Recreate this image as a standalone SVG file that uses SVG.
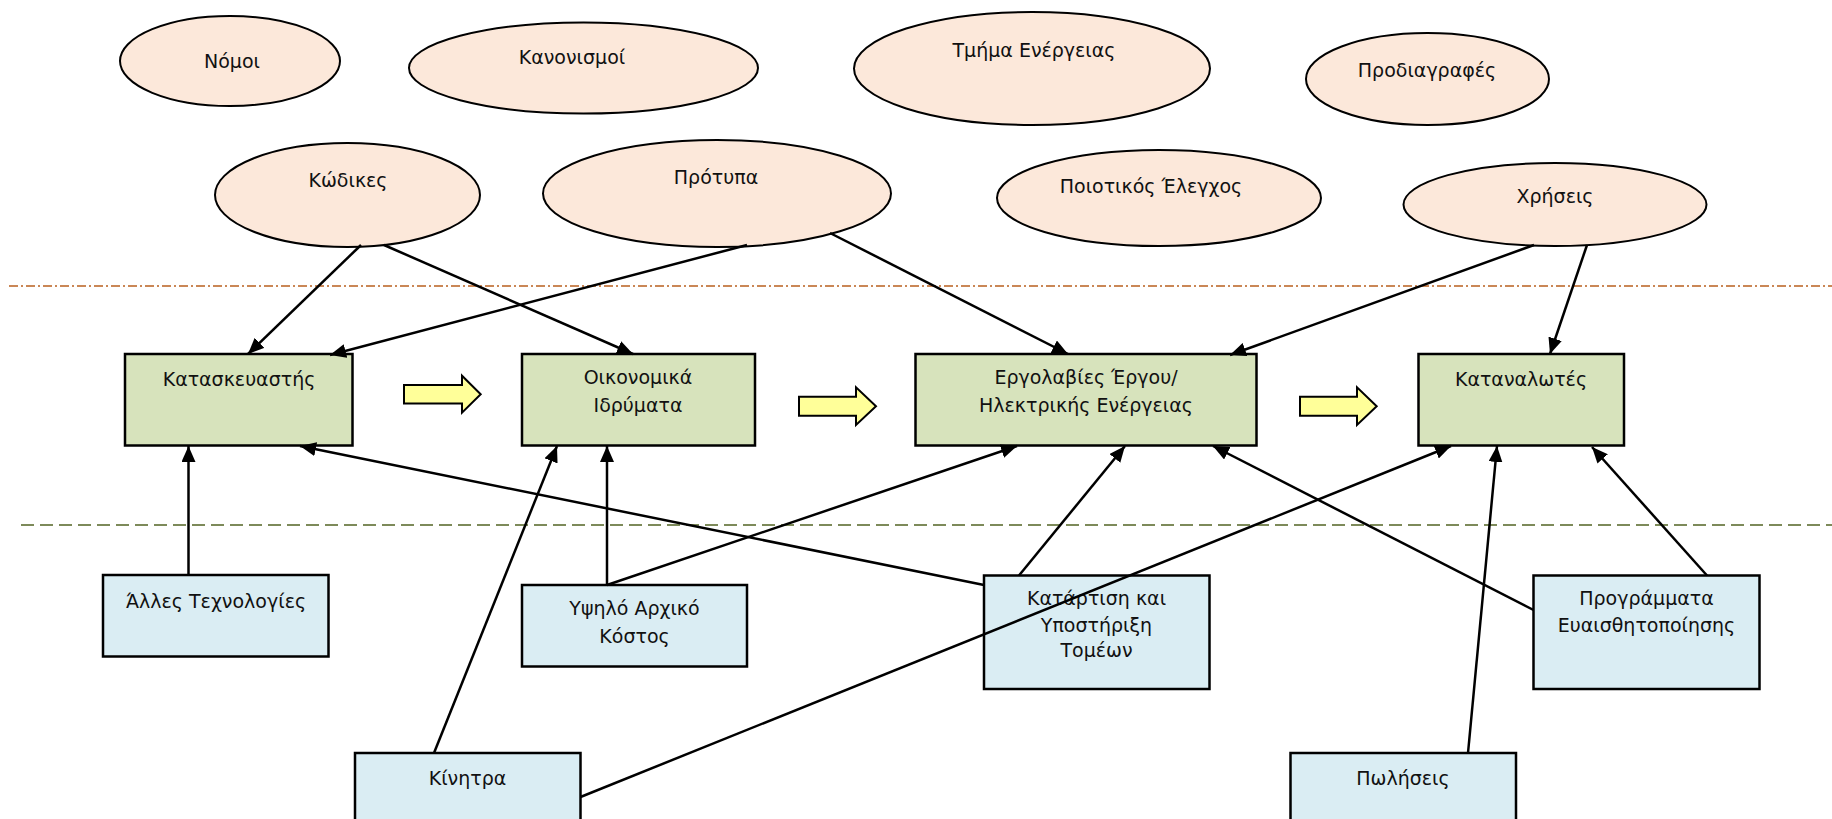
<svg xmlns="http://www.w3.org/2000/svg" width="1832" height="819" viewBox="0 0 1832 819">
  <defs>
    <marker id="tip" markerUnits="userSpaceOnUse" markerWidth="17" markerHeight="14" refX="16" refY="7" orient="auto">
      <path d="M0,0 L16,7 L0,14 z" fill="#000"/>
    </marker>
  </defs>
  <style>
    text { font-family: "DejaVu Sans", "Liberation Sans", sans-serif; font-size: 19px; fill: #111; text-anchor: middle; }
    .oval { fill: #FCE8DA; stroke: #000; stroke-width: 2; }
    .actor { fill: #D7E3BC; stroke: #000; stroke-width: 2.5; }
    .factor { fill: #DAEDF3; stroke: #000; stroke-width: 2.5; }
    .flow { fill: #FFFF99; stroke: #000; stroke-width: 2; }
    .link { stroke: #000; stroke-width: 2.5; fill: none; marker-end: url(#tip); }
  </style>
  <rect width="1832" height="819" fill="#fff"/>

  <!-- separators between layers -->
  <g id="separators">
    <line x1="9" y1="286" x2="1832" y2="286" stroke="#B9601F" stroke-width="1.6" stroke-dasharray="9 3 2 3"/>
    <line x1="21" y1="525" x2="1832" y2="525" stroke="#7D8A5A" stroke-width="2" stroke-dasharray="13 6"/>
  </g>

  <!-- regulatory / institutional ovals -->
  <g id="nomoi"><ellipse class="oval" cx="230" cy="61" rx="110" ry="45"/><text x="232" y="68">Νόμοι</text></g>
  <g id="kanonismoi"><ellipse class="oval" cx="583.5" cy="68" rx="174.5" ry="45.5"/><text x="572" y="64">Κανονισμοί</text></g>
  <g id="tmima-energeias"><ellipse class="oval" cx="1032" cy="68.5" rx="178" ry="56.5"/><text x="1034" y="57">Τμήμα Ενέργειας</text></g>
  <g id="prodiagrafes"><ellipse class="oval" cx="1427.5" cy="79" rx="121.5" ry="46"/><text x="1427" y="77">Προδιαγραφές</text></g>
  <g id="kodikes"><ellipse class="oval" cx="347.5" cy="195" rx="132.5" ry="52"/><text x="348" y="187">Κώδικες</text></g>
  <g id="protypa"><ellipse class="oval" cx="717" cy="193.5" rx="174" ry="53.5"/><text x="716" y="184">Πρότυπα</text></g>
  <g id="poiotikos-elegxos"><ellipse class="oval" cx="1159" cy="198" rx="162" ry="48"/><text x="1151" y="193">Ποιοτικός Έλεγχος</text></g>
  <g id="xriseis"><ellipse class="oval" cx="1555" cy="204.5" rx="151.5" ry="41.5"/><text x="1555" y="203">Χρήσεις</text></g>

  <!-- market actors -->
  <g id="kataskeuastis"><rect class="actor" x="125" y="354" width="227.5" height="91.5"/><text x="239" y="385.5">Κατασκευαστής</text></g>
  <g id="oikonomika-idrymata"><rect class="actor" x="522" y="354" width="233" height="91.5"/><text x="638" y="384">Οικονομικά</text><text x="638" y="411.5">Ιδρύματα</text></g>
  <g id="ergolavies"><rect class="actor" x="915.5" y="354" width="341" height="91.5"/><text x="1086" y="384">Εργολαβίες Έργου/</text><text x="1086" y="411.5">Ηλεκτρικής Ενέργειας</text></g>
  <g id="katanalotes"><rect class="actor" x="1418.5" y="354" width="205.5" height="91.5"/><text x="1521" y="385.5">Καταναλωτές</text></g>

  <!-- influencing factors -->
  <g id="alles-texnologies"><rect class="factor" x="103" y="575" width="225.5" height="81.5"/><text x="216" y="608">Άλλες Τεχνολογίες</text></g>
  <g id="ypsilo-kostos"><rect class="factor" x="522" y="585" width="225" height="81.5"/><text x="634.5" y="615">Υψηλό Αρχικό</text><text x="634.5" y="642.5">Κόστος</text></g>
  <g id="katartisi"><rect class="factor" x="984" y="575.5" width="225.5" height="113.5"/><text x="1096.5" y="605">Κατάρτιση και</text><text x="1096.5" y="631.5">Υποστήριξη</text><text x="1096.5" y="657">Τομέων</text></g>
  <g id="programmata"><rect class="factor" x="1533.5" y="575.5" width="226" height="113.5"/><text x="1646.5" y="605">Προγράμματα</text><text x="1646.5" y="632">Ευαισθητοποίησης</text></g>
  <g id="kinitra"><rect class="factor" x="355" y="753" width="225.5" height="80"/><text x="467.5" y="785">Κίνητρα</text></g>
  <g id="poliseis"><rect class="factor" x="1290.5" y="753" width="225.5" height="80"/><text x="1403" y="785">Πωλήσεις</text></g>

  <!-- connectors and flow arrows -->
  <g id="connectors">
    <polygon class="flow" points="404,385 462,385 462,375.7 480.7,394.2 462,412.7 462,403.5 404,403.5"/>
    <polygon class="flow" points="799,396.7 856,396.7 856,387.3 876,406.2 856,425 856,415.7 799,415.7"/>
    <polygon class="flow" points="1300,396.7 1357,396.7 1357,387.3 1376.7,406.2 1357,425 1357,415.7 1300,415.7"/>

    <line class="link" x1="361" y1="245" x2="248" y2="354"/>
    <line class="link" x1="747" y1="245" x2="330" y2="355"/>
    <line class="link" x1="384" y1="245" x2="633" y2="354"/>
    <line class="link" x1="830" y1="233" x2="1068" y2="354"/>
    <line class="link" x1="1534" y1="245" x2="1230" y2="355"/>
    <line class="link" x1="1587" y1="245" x2="1550" y2="354"/>

    <line class="link" x1="188.5" y1="575" x2="188.5" y2="446"/>
    <line class="link" x1="984" y1="585" x2="300" y2="446"/>
    <line class="link" x1="434" y1="753" x2="557" y2="446"/>
    <line class="link" x1="607" y1="585" x2="607" y2="446"/>
    <line class="link" x1="607" y1="585" x2="1017" y2="446"/>
    <line class="link" x1="1019" y1="575.5" x2="1125" y2="446"/>
    <line class="link" x1="1533.5" y1="610" x2="1213" y2="446"/>
    <line class="link" x1="580.5" y1="797" x2="1451" y2="446"/>
    <line class="link" x1="1468" y1="753" x2="1497" y2="446"/>
    <line class="link" x1="1707" y1="575.5" x2="1592" y2="447"/>
  </g>
</svg>
